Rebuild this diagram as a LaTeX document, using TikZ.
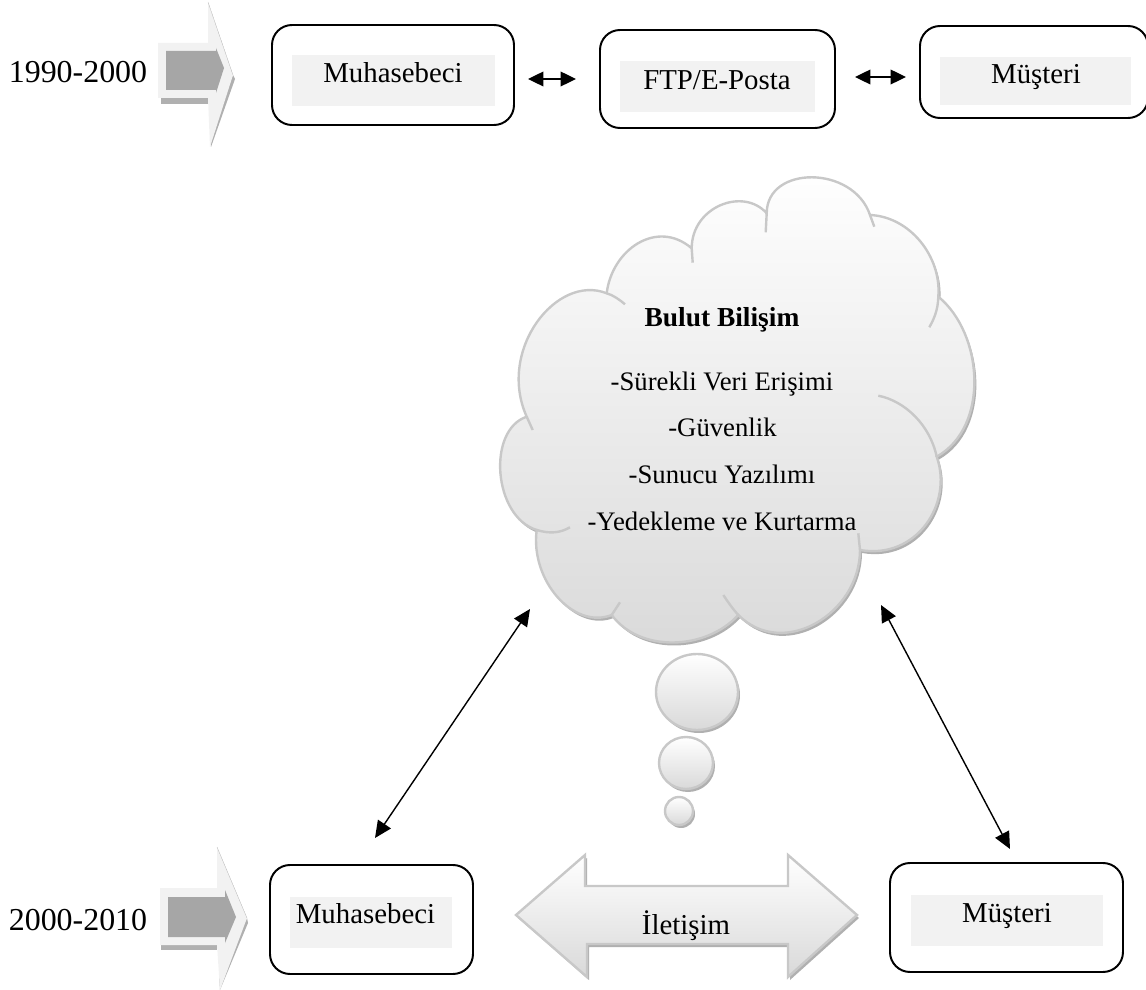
\documentclass[tikz,border=0pt]{standalone}
\usepackage{fontspec}
\setmainfont{Liberation Serif}
\usepackage{tikz}
\usetikzlibrary{arrows.meta}
\definecolor{palegrey}{HTML}{F2F2F2}
\definecolor{midgrey}{HTML}{A6A6A6}
\definecolor{shadowgrey}{HTML}{B0B0B0}
\definecolor{cloudline}{HTML}{C8C8C8}
\definecolor{cloudlow}{HTML}{D9D9D9}
\tikzset{roundbox/.style n args={2}{draw=black,line width=1.4pt,rounded corners=0.5cm,inner sep=0pt,minimum width=#1*0.025cm,minimum height=#2*0.025cm}}
\tikzset{greybox/.style n args={2}{fill=palegrey,inner sep=0pt,minimum width=#1*0.025cm,minimum height=#2*0.025cm}}
\tikzset{boxlabel/.style={anchor=base,inner sep=0pt,font=\fontsize{20.5}{24}\selectfont}}
\tikzset{yearlabel/.style={anchor=base,inner sep=0pt,font=\fontsize{22.7}{26}\selectfont}}
\tikzset{cloudlabel/.style={anchor=base,inner sep=0pt,font=\fontsize{19}{23}\selectfont}}
\tikzset{shortlink/.style={{Triangle[length=11pt,width=10.5pt]}-{Triangle[length=11pt,width=10.5pt]},line width=1pt}}
\tikzset{longlink/.style={{Triangle[length=12pt,width=11pt]}-{Triangle[length=12pt,width=11pt]},line width=1pt}}
\tikzset{softbody/.style={draw=cloudline,line width=1.7pt,top color=white,bottom color=cloudlow}}
\tikzset{softshadow/.style={fill=shadowgrey,shift={(2,3)}}}
\tikzset{crease/.style={draw=cloudline,line width=1.7pt}}
\newcommand{\cloudpath}{(606.7,293.3)
	.. controls (611.7,250) and (656.7,218.3) .. (691.7,248.3)
	.. controls (691.7,206.7) and (743.3,186.7) .. (766.7,213.3)
	.. controls (766.7,165) and (853.3,165) .. (870,215)
	.. controls (910,216.7) and (941.7,256.7) .. (938.3,296.7)
	.. controls (983.3,333.3) and (990,426.7) .. (936.7,456.7)
	.. controls (953.3,503.3) and (916.7,560) .. (860,550)
	.. controls (860,613.3) and (783.3,660) .. (738.3,615)
	.. controls (706.7,650) and (640,653.3) .. (611.7,615)
	.. controls (573.3,630) and (530,580) .. (536.7,530)
	.. controls (493.3,516.7) and (486.7,430) .. (526.7,416.7)
	.. controls (496.7,350) and (556.7,273.3) .. (606.7,293.3) -- cycle}
\newcommand{\linkpath}{(516,915) -- (585,855) -- (585,886) -- (788,886) -- (788,855) -- (857,915) -- (788,977) -- (788,944) -- (587,944) -- (587,977) -- cycle}
\begin{document}
\begin{tikzpicture}[x=0.025cm,y=-0.025cm]
	\useasboundingbox (0,0) rectangle (1146,990);
	\clip (0,0) rectangle (1146,990);

	\fill[shadowgrey] (161,98) rectangle (208,104);
	\fill[shadowgrey] (233,75) -- (235,79) -- (211,147) -- (210,135) -- cycle;
	\fill[palegrey] (158,43) -- (208,43) -- (208,2) -- (233,75) -- (210,147) -- (208,98) -- (158,98) -- cycle;
	\draw[shadowgrey,very thin] (208,2) -- (233,75);
	\fill[midgrey] (166,51) -- (216,51) -- (216,48) -- (224,68) -- (216,93) -- (216,90) -- (166,90) -- cycle;
	\node[yearlabel] (year1) at (78,83) {1990-2000};

	\node[roundbox={242}{100}] (muh1) at (393,75) {};
	\node[greybox={203}{51}] (muh1bg) at (393.5,80.5) {};
	\node[boxlabel] (muh1txt) at (393,83) {Muhasebeci};
	\node[roundbox={235}{98}] (ftp) at (717.5,79) {};
	\node[greybox={195}{51}] (ftpbg) at (717.5,86.5) {};
	\node[boxlabel] (ftptxt) at (717,90) {FTP/E-Posta};
	\node[roundbox={228}{92}] (mus1) at (1034,72) {};
	\node[greybox={191}{48}] (mus1bg) at (1035.5,81) {};
	\node[boxlabel] (mus1txt) at (1036,84) {Müşteri};

	\coordinate (muh1out) at (528,79);
	\coordinate (ftpin) at (576,79);
	\coordinate (ftpout) at (855,77);
	\coordinate (mus1in) at (906,77);
	\draw[shortlink] (muh1out) -- (ftpin);
	\draw[shortlink] (ftpout) -- (mus1in);

	\fill[softshadow] \cloudpath;
	\path[softbody] \cloudpath;
	\path[crease] (606.7,293.3) .. controls (613,295) and (620,300) .. (625,304.3);
	\path[crease] (691.7,248.3) -- (692.7,262.7);
	\path[crease] (766.7,213.3) -- (765.7,232.3);
	\path[crease] (870,215) -- (874.3,226.7);
	\path[crease] (938.3,296.7) .. controls (938,310) and (934,319) .. (929.3,327.3);
	\path[crease] (878.3,395.7) .. controls (905,401) and (930,425) .. (936.7,456.7);
	\path[crease] (526.7,416.7) -- (532.7,430);
	\path[crease] (536.7,530) .. controls (550,534) and (560,533) .. (570,527.3);
	\path[crease] (611.7,615) -- (620,602.3);
	\path[crease] (738.3,615) .. controls (732,608) and (728,602) .. (723.3,595);
	\path[crease] (860,550) -- (858.3,533.3);
	\node[cloudlabel,font=\fontsize{19.5}{23}\selectfont\bfseries] (cloudtitle) at (722,327) {Bulut Bilişim};
	\node[cloudlabel] (item1) at (722,391) {-Sürekli Veri Erişimi};
	\node[cloudlabel] (item2) at (722.5,437) {-Güvenlik};
	\node[cloudlabel] (item3) at (722,484) {-Sunucu Yazılımı};
	\node[cloudlabel] (item4) at (722,531) {-Yedekleme ve Kurtarma};

	\fill[softshadow] (697,692) ellipse [x radius=41, y radius=38];
	\path[softbody] (697,692) ellipse [x radius=41, y radius=38];
	\fill[softshadow] (686,763) ellipse [x radius=27, y radius=26];
	\path[softbody] (686,763) ellipse [x radius=27, y radius=26];
	\fill[softshadow] (679,811) ellipse [x radius=14, y radius=14];
	\path[softbody] (679,811) ellipse [x radius=14, y radius=14];

	\fill[shadowgrey] (161,945) rectangle (217,950);
	\fill[shadowgrey] (247,918) -- (248,923) -- (220,990) -- (219,975) -- cycle;
	\fill[palegrey] (160,888) -- (217,888) -- (217,847) -- (247,918) -- (220,990) -- (217,945) -- (160,945) -- cycle;
	\draw[shadowgrey,very thin] (217,847) -- (247,918);
	\fill[midgrey] (168,897) -- (225,897) -- (225,890) -- (236,917) -- (225,943) -- (225,937) -- (168,937) -- cycle;
	\node[yearlabel] (year2) at (78,930) {2000-2010};

	\node[roundbox={203}{109}] (muh2) at (371.5,919.5) {};
	\node[greybox={162}{51}] (muh2bg) at (371,922.5) {};
	\node[boxlabel] (muh2txt) at (365.5,923) {Muhasebeci};
	\node[roundbox={233}{109}] (mus2) at (1006.5,917.5) {};
	\node[greybox={192}{51}] (mus2bg) at (1007,920.5) {};
	\node[boxlabel] (mus2txt) at (1007,922) {Müşteri};

	\fill[softshadow] \linkpath;
	\path[softbody] \linkpath;
	\node[boxlabel] (linktxt) at (686,934) {İletişim};

	\coordinate (muh2up) at (375,838);
	\coordinate (cloudsw) at (530,609);
	\coordinate (mus2up) at (1010,849);
	\coordinate (cloudse) at (881,605);
	\draw[longlink] (muh2up) -- (cloudsw);
	\draw[longlink] (mus2up) -- (cloudse);
\end{tikzpicture}
\end{document}
